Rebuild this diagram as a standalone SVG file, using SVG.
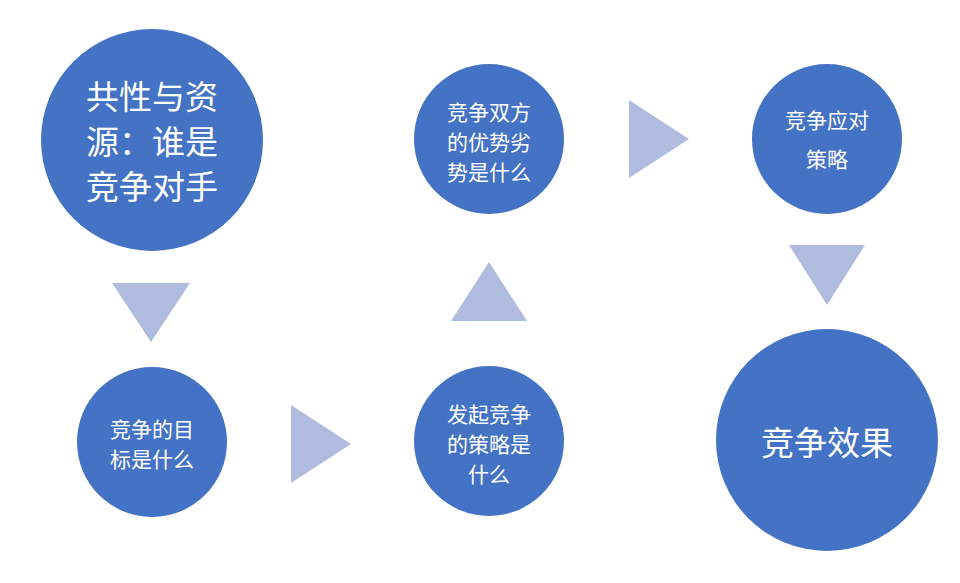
<svg xmlns="http://www.w3.org/2000/svg" width="960" height="583" viewBox="0 0 960 583">
<style>
.c{fill:#4472C4}
.t{fill:#B0BCDF}
text{fill:#fff;font-family:"Noto Sans CJK SC",sans-serif;text-anchor:middle}
.b{font-size:33px}
.s{font-size:21px}
</style>
<rect width="960" height="583" fill="#fff"/>
<g id="connectors">
<polygon class="t" points="112,283 190,283 151,342"/>
<polygon class="t" points="291,405 291,483 351,444"/>
<polygon class="t" points="451,321 527,321 489,262"/>
<polygon class="t" points="629,100 629,178 689,139"/>
<polygon class="t" points="789,245 865,245 827,305"/>
</g>
<g id="n1"><circle class="c" cx="152" cy="140" r="111"/>
<text class="b" x="152" y="109">共性与资</text><text class="b" x="152" y="154">源：谁是</text><text class="b" x="152" y="199">竞争对手</text></g>
<g id="n2"><circle class="c" cx="152" cy="442" r="75"/>
<text class="s" x="152" y="437">竞争的目</text><text class="s" x="152" y="467">标是什么</text></g>
<g id="n3"><circle class="c" cx="489" cy="441" r="75"/>
<text class="s" x="489" y="422">发起竞争</text><text class="s" x="489" y="452">的策略是</text><text class="s" x="489" y="482">什么</text></g>
<g id="n4"><circle class="c" cx="489" cy="139" r="75"/>
<text class="s" x="489" y="120">竞争双方</text><text class="s" x="489" y="150">的优势劣</text><text class="s" x="489" y="180">势是什么</text></g>
<g id="n5"><circle class="c" cx="827" cy="139" r="75"/>
<text class="s" x="827" y="128">竞争应对</text><text class="s" x="827" y="167">策略</text></g>
<g id="n6"><circle class="c" cx="827" cy="440" r="111"/>
<text class="b" x="827" y="455">竞争效果</text></g>
</svg>
